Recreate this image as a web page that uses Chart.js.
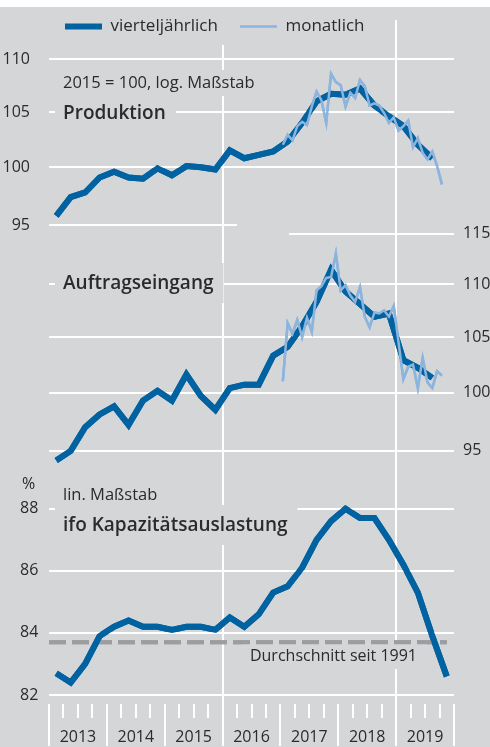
<!DOCTYPE html>
<html lang="de">
<head>
<meta charset="utf-8">
<script src="https://cdn.jsdelivr.net/npm/chart.js@4/dist/chart.umd.min.js"></script>
<style>
  html, body { margin: 0; padding: 0; background: #fff; }
  #wrap { position: relative; width: 490px; height: 740px; margin-top: 7px; background: #d5d6d8; }
</style>
</head>
<body>
<div id="wrap"><canvas id="chart"></canvas></div>
<script>
const FONT = "'Open Sans', 'Noto Sans', sans-serif"
const BG = "#d5d6d8"
const GRID = "#ffffff"
const TEXT = "#2b2b2b"
const DARK_BLUE = "#0062a1"
const LIGHT_BLUE = "#8db4dd"
const AVG_GREY = "#9c9d9f"
const NONE = "rgba(0,0,0,0)"

// categories
const yearLabels = ["2013", "2014", "2015", "2016", "2017", "2018", "2019"]
const quarters = [
  "2013Q1", "2013Q2", "2013Q3", "2013Q4", "2014Q1", "2014Q2", "2014Q3", "2014Q4",
  "2015Q1", "2015Q2", "2015Q3", "2015Q4", "2016Q1", "2016Q2", "2016Q3", "2016Q4",
  "2017Q1", "2017Q2", "2017Q3", "2017Q4", "2018Q1", "2018Q2", "2018Q3", "2018Q4",
  "2019Q1", "2019Q2", "2019Q3", "2019Q4",
]
const months = [
  "2017-01", "2017-02", "2017-03", "2017-04", "2017-05", "2017-06",
  "2017-07", "2017-08", "2017-09", "2017-10", "2017-11", "2017-12",
  "2018-01", "2018-02", "2018-03", "2018-04", "2018-05", "2018-06",
  "2018-07", "2018-08", "2018-09", "2018-10", "2018-11", "2018-12",
  "2019-01", "2019-02", "2019-03", "2019-04", "2019-05", "2019-06",
  "2019-07", "2019-08", "2019-09", "2019-10",
]

// Produktion, 2015 = 100
const produktionQ = [
  95.8, 97.4, 97.8, 99.1, 99.6, 99.1, 99.0, 99.9, 99.3, 100.1, 100.0, 99.8,
  101.5, 100.8, 101.1, 101.4, 102.3, 104.0, 106.0, 106.7, 106.6, 107.2, 105.6, 104.6,
  103.7, 102.0, 100.8,
]
const produktionM = [
  102.0, 102.9, 102.4, 103.7, 104.1, 103.8, 105.5, 106.9, 106.1, 104.0, 108.6, 107.8,
  107.5, 105.5, 106.8, 106.3, 108.0, 107.4, 105.6, 105.8, 105.6, 104.9, 104.0, 104.5,
  103.3, 103.7, 104.2, 101.8, 102.6, 101.3, 100.7, 101.4, 100.1, 98.5,
]

// Auftragseingang, 2015 = 100
const auftragQ = [
  94.2, 95.0, 97.0, 98.1, 98.8, 97.2, 99.3, 100.15, 99.3, 101.6, 99.7, 98.5,
  100.4, 100.7, 100.7, 103.3, 104.1, 106.0, 108.3, 111.4, 109.3, 108.1, 106.9, 107.2,
  102.9, 102.2, 101.3,
]
const auftragM = [
  101.0, 106.3, 105.3, 106.6, 105.0, 106.8, 105.5, 109.4, 109.8, 110.6, 110.7, 113.0,
  109.4, 109.9, 108.9, 108.3, 109.7, 106.9, 105.9, 107.3, 107.2, 107.5, 106.9, 107.9,
  104.5, 101.2, 102.3, 102.5, 100.4, 103.1, 100.9, 100.4, 101.9, 101.5,
]

// ifo Kapazitätsauslastung, %
const ifoQ = [
  82.7, 82.4, 83.0, 83.9, 84.2, 84.4, 84.2, 84.2, 84.1, 84.2, 84.2, 84.1,
  84.5, 84.2, 84.6, 85.3, 85.5, 86.1, 87.0, 87.6, 88.0, 87.7, 87.7, 87.0,
  86.2, 85.3, 83.9, 82.6,
]
const ifoAverage = 83.7 // Durchschnitt seit 1991

// tick labels
const produktionTicks = [95, 100, 105, 110]
const auftragTicks = [95, 100, 105, 110, 115]
const ifoTicks = [82, 84, 86, 88]

// axis ranges; all three value axes span the full plot height
const P_RANGE = { min: 62.28, max: 111.39 }
const A_RANGE = { min: 76.05, max: 135.74 }
const K_RANGE = { min: 81.71, max: 102.94 }

const toQuarterX = (q) => Number(q.slice(0, 4)) + (Number(q.slice(5)) - 0.5) / 4
const toMonthX = (m) => Number(m.slice(0, 4)) + (Number(m.slice(5)) - 0.5) / 12
const points = (labels, values, toX) => values.map((v, i) => ({ x: toX(labels[i]), y: v }))

// same height on the right-hand log axis as a value on one of the left axes
const logShare = (v, r) => Math.log(v / r.min) / Math.log(r.max / r.min)
const linShare = (v, r) => (v - r.min) / (r.max - r.min)
const onAuftragAxis = (share) => A_RANGE.min * Math.pow(A_RANGE.max / A_RANGE.min, share)

const firstYear = Number(yearLabels[0])
const lastYear = Number(yearLabels[yearLabels.length - 1]) + 1
const quarterTicks = []
for (let y = firstYear; y <= lastYear; y += 0.25) quarterTicks.push(y)

const notes = [
  { text: "2015 = 100, log. Maßstab", x: 63, y: 81, size: 16.5 },
  { text: "Produktion", x: 63, y: 112, size: 19, bold: true },
  { text: "Auftragseingang", x: 63, y: 282, size: 19, bold: true },
  { text: "%", x: 22, y: 482, size: 16, plain: true },
  { text: "lin. Maßstab", x: 63, y: 493, size: 16.5 },
  { text: "ifo Kapazitätsauslastung", x: 63, y: 524, size: 19, bold: true },
  { text: "Durchschnitt seit 1991", x: 417, y: 654, size: 16, right: true },
]

const hBar = (ctx, y, x1, x2) => ctx.fillRect(Math.round(x1), Math.round(y) - 1, Math.round(x2) - Math.round(x1), 2)

const drawNotes = (ctx) => {
  ctx.textBaseline = "alphabetic"
  for (const n of notes) {
    ctx.font = `${n.bold ? "600 " : ""}${n.size}px ${FONT}`
    const w = ctx.measureText(n.text).width
    const x = n.right ? n.x - w : n.x
    if (!n.plain) {
      // labels sit on a patch of background that interrupts the grid
      ctx.fillStyle = BG
      const up = n.bold ? 26 : 18
      ctx.fillRect(x - 8, n.y - up, w + 18, up + (n.bold ? 14 : 8))
    }
    ctx.fillStyle = TEXT
    ctx.fillText(n.text, x, n.y)
  }
}

const panelLabels = {
  id: "panelLabels",
  afterLayout(chart) {
    // legend starts a little inside the plot area, not at the canvas edge
    chart.legend.left = chart.chartArea.left - 6
  },
  afterDraw(chart) {
    const { ctx, chartArea, scales } = chart
    const { left, right, top, bottom } = chartArea
    ctx.save()
    ctx.setTransform(1, 0, 0, 1, 0, 0)
    ctx.globalAlpha = 1
    ctx.globalCompositeOperation = "source-over"
    ctx.setLineDash([])

    // grid of the two left-hand panels
    ctx.fillStyle = GRID
    for (const v of produktionTicks) {
      // lowest line stops short where the middle panel begins
      const end = v === produktionTicks[0] ? scales.x.getPixelForValue(2016.25) : right
      hBar(ctx, scales.yP.getPixelForValue(v), left, end)
    }
    for (const v of ifoTicks) hBar(ctx, scales.yK.getPixelForValue(v), left, right)
    // top line of the middle panel starts late
    hBar(ctx, scales.yA.getPixelForValue(115), scales.x.getPixelForValue(2017.15), right)
    // the 2019 line runs up into the legend row
    const x2019 = Math.round(scales.x.getPixelForValue(2019))
    ctx.fillRect(x2019 - 1, 13, 2, top - 13)

    drawNotes(ctx)

    // series go back on top of grid and label patches
    ctx.beginPath()
    ctx.rect(left, top, right - left, bottom - top)
    ctx.clip()
    const metas = chart.getSortedVisibleDatasetMetas()
    for (let i = metas.length - 1; i >= 0; --i) metas[i].controller.draw()
    ctx.restore()
  },
}

const lineStyle = (color, width) => ({
  borderColor: color,
  backgroundColor: color,
  borderWidth: width,
  pointRadius: 0,
  fill: false,
  tension: 0,
})

const fixedTicks = (values) => (scale) => {
  scale.ticks = values.map((v) => ({ value: v }))
}

const yAxisBase = {
  bounds: "data",
  border: { display: false },
  grid: { display: false },
  ticks: { font: { size: 16 }, color: TEXT, autoSkip: false },
}

Chart.defaults.font.family = FONT

new Chart(document.getElementById("chart"), {
  type: "line",
  data: {
    datasets: [
      { label: "vierteljährlich", data: points(quarters, produktionQ, toQuarterX), yAxisID: "yP", order: 1, ...lineStyle(DARK_BLUE, 6) },
      { label: "monatlich", data: points(months, produktionM, toMonthX), yAxisID: "yP", order: 0, ...lineStyle(LIGHT_BLUE, 2.5) },
      { label: "Auftragseingang vierteljährlich", data: points(quarters, auftragQ, toQuarterX), yAxisID: "yA", order: 1, ...lineStyle(DARK_BLUE, 6) },
      { label: "Auftragseingang monatlich", data: points(months, auftragM, toMonthX), yAxisID: "yA", order: 0, ...lineStyle(LIGHT_BLUE, 2.5) },
      { label: "ifo Kapazitätsauslastung", data: points(quarters, ifoQ, toQuarterX), yAxisID: "yK", order: 1, ...lineStyle(DARK_BLUE, 6) },
      {
        label: "Durchschnitt seit 1991",
        data: [{ x: firstYear, y: ifoAverage }, { x: toQuarterX(quarters[quarters.length - 1]), y: ifoAverage }],
        yAxisID: "yK",
        order: 2,
        borderDash: [17, 6],
        ...lineStyle(AVG_GREY, 4),
      },
    ],
  },
  options: {
    animation: false,
    responsive: true,
    maintainAspectRatio: false,
    events: [],
    layout: { padding: { top: -11, left: 0, right: 0, bottom: 0 } },
    plugins: {
      tooltip: { enabled: false },
      legend: {
        position: "top",
        align: "start",
        labels: {
          usePointStyle: true,
          pointStyle: "line",
          pointStyleWidth: 37,
          padding: 22,
          color: TEXT,
          font: { size: 17 },
          filter: (item) => item.datasetIndex < 2,
          sort: (a, b) => a.datasetIndex - b.datasetIndex,
        },
      },
    },
    scales: {
      x: {
        type: "linear",
        min: firstYear,
        max: lastYear,
        bounds: "data",
        afterBuildTicks: fixedTicks(quarterTicks),
        afterFit: (scale) => {
          scale.height = 43
        },
        border: { display: false },
        grid: {
          color: (c) => (c.tick && (c.tick.value === 2016 || c.tick.value === 2019) ? GRID : NONE),
          lineWidth: 2,
          tickColor: GRID,
          tickWidth: 2,
          tickLength: 42,
          tickBorderDash: (c) => (c.tick && Number.isInteger(c.tick.value) ? [] : [14, 100]),
        },
        ticks: {
          autoSkip: false,
          maxRotation: 0,
          padding: -18,
          color: TEXT,
          font: { size: 16 },
          callback: (v) => (v % 1 === 0.5 ? yearLabels[Math.floor(v) - firstYear] : ""),
        },
      },
      // lower panel: zero-width axis next to the plot, labels mirrored back out
      yK: {
        ...yAxisBase,
        type: "linear",
        position: "left",
        weight: 0,
        ...K_RANGE,
        afterBuildTicks: fixedTicks(ifoTicks),
        afterFit: (scale) => {
          scale.width = 0
        },
        ticks: { ...yAxisBase.ticks, mirror: true, crossAlign: "near", padding: -29 },
      },
      yP: {
        ...yAxisBase,
        type: "logarithmic",
        position: "left",
        weight: 1,
        ...P_RANGE,
        afterBuildTicks: fixedTicks(produktionTicks),
        afterFit: (scale) => {
          scale.width = 49
        },
        ticks: { ...yAxisBase.ticks, padding: 11, callback: (v) => String(v) },
      },
      // right axis also carries the grid rows of the left-hand panels (unlabelled)
      yA: {
        ...yAxisBase,
        type: "logarithmic",
        position: "right",
        ...A_RANGE,
        afterBuildTicks: (scale) => {
          scale.ticks = [
            ...auftragTicks.map((v) => ({ value: v })),
            ...produktionTicks.map((v) => ({ value: onAuftragAxis(logShare(v, P_RANGE)), panel: "P", source: v })),
            ...ifoTicks.map((v) => ({ value: onAuftragAxis(linShare(v, K_RANGE)), panel: "K", source: v })),
          ].sort((a, b) => a.value - b.value)
        },
        afterFit: (scale) => {
          scale.width = 36
        },
        grid: {
          display: true,
          lineWidth: 2,
          drawTicks: false,
          color: (c) => {
            const t = c.tick
            if (!t) return NONE
            if (t.panel === "P" && t.source === produktionTicks[0]) return NONE
            if (!t.panel && t.value === 115) return NONE
            return GRID
          },
        },
        ticks: { ...yAxisBase.ticks, padding: 9, callback: (v, i, ticks) => (ticks[i] && ticks[i].panel ? "" : String(v)) },
      },
    },
  },
  plugins: [panelLabels],
})
</script>
</body>
</html>
